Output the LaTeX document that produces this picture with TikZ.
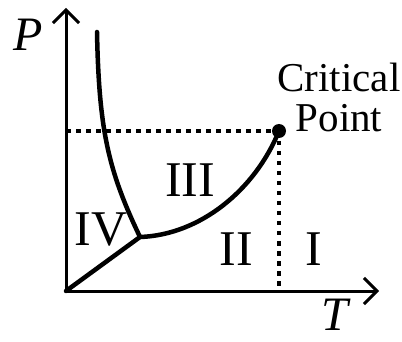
\documentclass[tikz,border=0pt]{standalone}
\usepackage{fontspec}
\setmainfont{Liberation Serif}
\usetikzlibrary{arrows.meta}

\tikzset{
  axis/.style={line width=3pt, -{Straight Barb[length=13pt, width=26pt]}},
  phaseline/.style={line width=4.5pt, line cap=round},
  guide/.style={line width=4pt, dash pattern=on 4.5pt off 5.5pt},
  region/.style={font=\fontsize{50}{52}\selectfont},
  axislabel/.style={font=\fontsize{48}{50}\selectfont\itshape, inner sep=0pt}
}

\begin{document}
\begin{tikzpicture}[x=1pt, y=-1pt]

      \useasboundingbox (0,0) rectangle (402,342);

      % Key points of the diagram.
      \coordinate (O) at (66,291);
      \coordinate (Ptop) at (66,8);
      \coordinate (Tend) at (379,291);
      \coordinate (triple) at (140,237);
      \coordinate (crit) at (279,131);
      \coordinate (melttop) at (97,32);
      \coordinate (critP) at (66,131);
      \coordinate (critT) at (279,291);

      % Dotted guide lines through the critical point.
      \draw[guide] (critP) -- (crit);
      \draw[guide] (crit) -- (critT);

      % Draw the axes.
      \draw[axis] (O) -- (Ptop);
      \draw[axis] (O) -- (Tend);

      % Draw the phase boundaries.
      \draw[phaseline] (O) -- (triple);
      \draw[phaseline] (melttop) .. controls (99,130) and (108,170) .. (triple);
      \draw[phaseline] (triple) .. controls (200,235) and (255,190) .. (crit);
      \fill (crit) circle (7pt);

      % Axis labels.
      \node[axislabel] (Plabel) at (28,35) {P};
      \node[axislabel] (Tlabel) at (335,315) {T};

      % Region labels.
      \node[region] (IV) at (101,230) {IV};
      \node[region] (III) at (190,180) {III};
      \node[region] (II) at (236,249) {II};
      \node[region] (I) at (314,249) {I};

      % Critical point label.
      \node[font=\fontsize{41}{44}\selectfont, align=center] (critlabel)
      at (339,97) {Critical\\[-4pt]Point};
    \end{tikzpicture}
\end{document}
